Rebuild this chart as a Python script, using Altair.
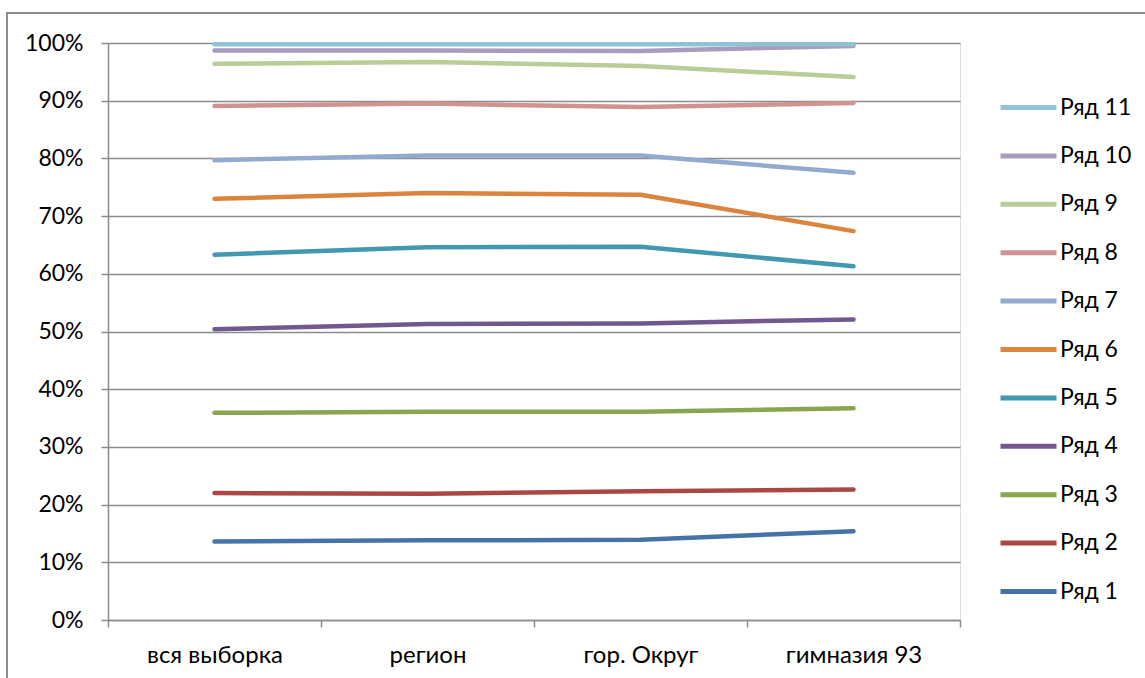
import altair as alt
import pandas as pd

# Categories along the x axis
categories = ["вся выборка", "регион", "гор. Округ", "гимназия 93"]

# Series names (bottom to top) and their values, in percent
series_names = ["Ряд 1", "Ряд 2", "Ряд 3", "Ряд 4", "Ряд 5", "Ряд 6",
                "Ряд 7", "Ряд 8", "Ряд 9", "Ряд 10", "Ряд 11"]
row1 = [13.6, 13.8, 13.9, 15.4]
row2 = [22.0, 21.9, 22.3, 22.6]
row3 = [35.9, 36.1, 36.1, 36.7]
row4 = [50.4, 51.3, 51.4, 52.1]
row5 = [63.3, 64.6, 64.7, 61.3]
row6 = [73.0, 74.0, 73.7, 67.4]
row7 = [79.7, 80.5, 80.5, 77.5]
row8 = [89.1, 89.5, 88.9, 89.6]
row9 = [96.4, 96.7, 96.0, 94.1]
row10 = [98.7, 98.7, 98.6, 99.5]
row11 = [99.8, 99.8, 99.8, 99.8]
series_values = [row1, row2, row3, row4, row5, row6, row7, row8, row9, row10, row11]

# Office-style palette, one colour per series
series_colors = ["#4572A7", "#AA4643", "#89A54E", "#71588F", "#4198AF", "#DB843D",
                 "#93A9CF", "#D19392", "#B9CD96", "#A99BBD", "#91C3D5"]

y_ticks = [0, 10, 20, 30, 40, 50, 60, 70, 80, 90, 100]

rows = []
for name, vals in zip(series_names, series_values):
    for cat, v in zip(categories, vals):
        rows.append({"series": name, "category": cat, "value": v})
df = pd.DataFrame(rows)

FONT = "Lato"
GRID = "#8c8c8c"

legend_order = series_names[::-1]
legend_colors = series_colors[::-1]

lines = alt.Chart(df).mark_line(strokeWidth=4.5, strokeCap="round", strokeJoin="round").encode(
    x=alt.X("category:N", sort=categories, bandPosition=0.5,
            scale=alt.Scale(type="band", paddingInner=0, paddingOuter=0),
            axis=alt.Axis(title=None, tickBand="extent", grid=False, domainColor=GRID,
                          domainWidth=1.5, tickColor=GRID, tickWidth=1.5, tickSize=7,
                          labelFont=FONT, labelFontSize=24, labelColor="#000000",
                          labelPadding=16, labelAngle=0)),
    y=alt.Y("value:Q", scale=alt.Scale(domain=[0, 100], nice=False),
            axis=alt.Axis(title=None, values=y_ticks, labelExpr="datum.value + '%'",
                          grid=True, gridColor=GRID, gridWidth=1.5, domainColor=GRID,
                          domainWidth=1.5, tickColor=GRID, tickWidth=1.5, tickSize=7,
                          labelFont=FONT, labelFontSize=23, labelColor="#000000",
                          labelPadding=18)),
    color=alt.Color("series:N",
                    scale=alt.Scale(domain=legend_order, range=legend_colors),
                    legend=alt.Legend(title=None, orient="none", legendX=890, legendY=34,
                                      symbolType="stroke", symbolSize=3136,
                                      symbolStrokeWidth=5, labelFont=FONT,
                                      labelFontSize=23, labelColor="#000000",
                                      labelOffset=1, rowPadding=5.4, padding=0)),
    detail="series:N",
)

# Outer frame around the chart
frame = alt.Chart(df).mark_rect(fillOpacity=0, stroke=GRID, strokeWidth=1.5).encode(
    x=alt.value(-101), x2=alt.value(1200), y=alt.value(-30), y2=alt.value(800)
)

chart = alt.layer(frame, lines).properties(
    width=852, height=577,
    autosize=alt.AutoSizeParams(type="none"),
    padding={"left": 108, "top": 43, "right": 185, "bottom": 58},
).configure_view(strokeWidth=0).configure(background="#ffffff")

chart.save("out.html", embed_options={"renderer": "svg", "actions": False})
